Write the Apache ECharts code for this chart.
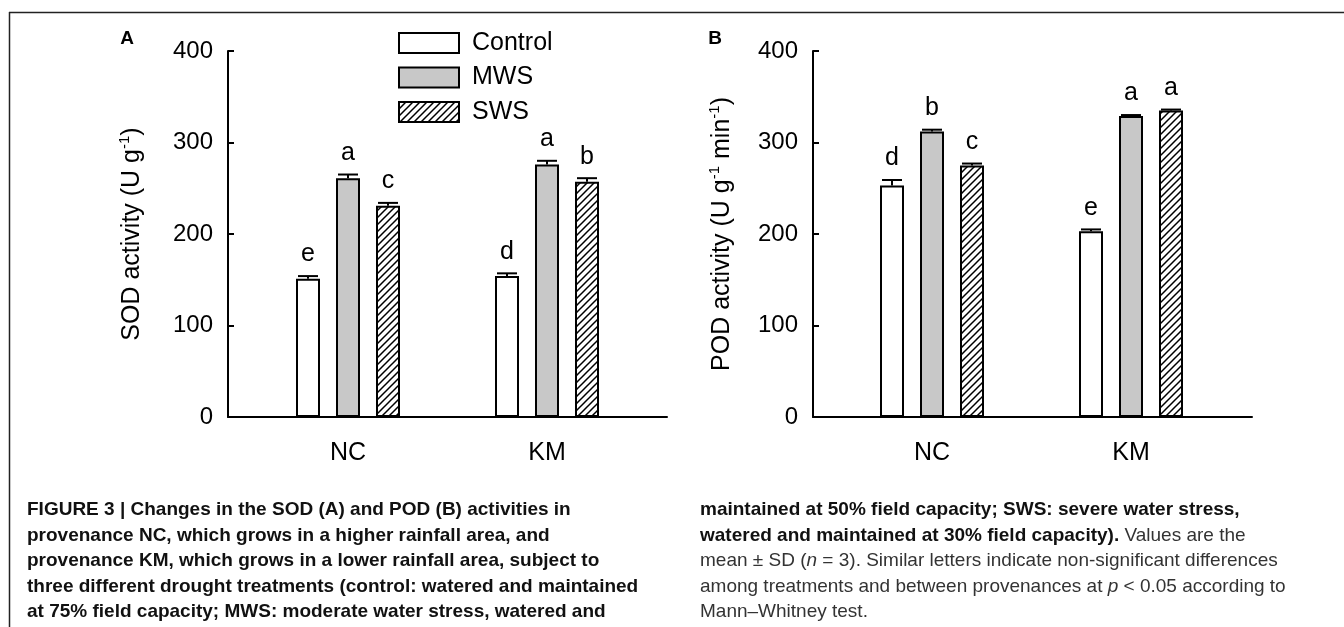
<!DOCTYPE html>
<html>
<head>
<meta charset="utf-8">
<script src="https://cdn.jsdelivr.net/npm/echarts@6/dist/echarts.min.js"></script>
<style>
html, body { margin: 0; padding: 0; background: #fff; }
#container { width: 1344px; height: 627px; }
</style>
</head>
<body>
<div id="container"></div>
<script>
var groups = ['NC', 'KM'];
var treatments = ['Control', 'MWS', 'SWS'];
var yTicks = [0, 100, 200, 300, 400];

// SOD activity, panel A
var sodControl = [151, 154];
var sodMws = [261, 276];
var sodSws = [231, 257];
var sodControlSd = [3, 3];
var sodMwsSd = [4, 4];
var sodSwsSd = [3, 4];
var sodControlLetters = ['e', 'd'];
var sodMwsLetters = ['a', 'a'];
var sodSwsLetters = ['c', 'b'];

// POD activity, panel B
var podControl = [253, 203];
var podMws = [312, 329];
var podSws = [275, 335];
var podControlSd = [6, 2];
var podMwsSd = [2, 1];
var podSwsSd = [2, 1];
var podControlLetters = ['d', 'e'];
var podMwsLetters = ['b', 'a'];
var podSwsLetters = ['c', 'a'];

var captionLeft = [
  'FIGURE 3 | Changes in the SOD (A) and POD (B) activities in',
  'provenance NC, which grows in a higher rainfall area, and',
  'provenance KM, which grows in a lower rainfall area, subject to',
  'three different drought treatments (control: watered and maintained',
  'at 75% field capacity; MWS: moderate water stress, watered and'
];
var captionRight = [
  '{b|maintained at 50% field capacity; SWS: severe water stress,}',
  '{b|watered and maintained at 30% field capacity).}{r| Values are the}',
  '{r|mean \u00b1 SD (}{i|n}{r| = 3). Similar letters indicate non-significant differences}',
  '{r|among treatments and between provenances at }{i|p}{r| < 0.05 according to}',
  '{r|Mann\u2013Whitney test.}'
];

var FONT = '"Liberation Sans", Arial, Helvetica, sans-serif';
var BAR_W = 24, BAR_GAP = 16;
var TOP = 51, BOTTOM = 210;

// diagonal hatch for SWS bars
function hatch() {
  var s = 7;
  var c = document.createElement('canvas');
  c.width = s; c.height = s;
  var g = c.getContext('2d');
  g.fillStyle = '#fff';
  g.fillRect(0, 0, s, s);
  g.strokeStyle = '#000';
  g.lineWidth = 1.5;
  g.beginPath();
  g.moveTo(0, s); g.lineTo(s, 0);
  g.moveTo(-1, 1); g.lineTo(1, -1);
  g.moveTo(s - 1, s + 1); g.lineTo(s + 1, s - 1);
  g.stroke();
  return c;
}
var fills = ['#ffffff', '#c8c8c8', { image: hatch(), repeat: 'repeat' }];

function frameX(gi) {
  return {
    gridIndex: gi, type: 'value', min: 0, max: 1,
    axisLine: { show: true, onZero: false, lineStyle: { color: '#000', width: 2 } },
    axisTick: { show: false }, axisLabel: { show: false }, splitLine: { show: false }
  };
}
function barsX(gi) {
  return {
    gridIndex: gi, type: 'category', data: groups,
    axisLine: { show: false }, axisTick: { show: false },
    axisLabel: { color: '#000', fontSize: 25, fontFamily: FONT, margin: 24 }
  };
}
function frameY(gi, name, gap) {
  return {
    gridIndex: gi, type: 'value', min: yTicks[0], max: yTicks[yTicks.length - 1], interval: 100,
    axisLine: { show: true, lineStyle: { color: '#000', width: 2 } },
    axisTick: { show: true, inside: true, length: 6, lineStyle: { color: '#000', width: 2 } },
    axisLabel: { color: '#000', fontSize: 24, fontFamily: FONT, margin: 15 },
    splitLine: { show: false },
    name: name, nameLocation: 'middle', nameGap: gap,
    nameTextStyle: {
      rich: {
        n: { fontSize: 25, fontFamily: FONT, color: '#000', lineHeight: 30 },
        s: { fontSize: 15, fontFamily: FONT, color: '#000', lineHeight: 15, verticalAlign: 'top' }
      }
    }
  };
}
function barsY(gi) {
  return { gridIndex: gi, type: 'value', min: yTicks[0], max: yTicks[yTicks.length - 1], show: false };
}

function barSeries(k, data, ai) {
  return {
    name: treatments[k], type: 'bar', xAxisIndex: ai, yAxisIndex: ai,
    data: data, barWidth: BAR_W, barGap: (BAR_GAP / BAR_W * 100) + '%',
    itemStyle: { color: fills[k], borderColor: '#000', borderWidth: 2 },
    silent: true
  };
}

// error bar (upper half) plus letter above it
function errSeries(k, means, sds, letters, ai) {
  var offset = (k - 1) * (BAR_W + BAR_GAP);
  return {
    type: 'custom', xAxisIndex: ai, yAxisIndex: ai, z: 5, silent: true,
    data: means.map(function (m, i) { return [i, m, sds[i]]; }),
    renderItem: function (params, api) {
      var i = api.value(0), m = api.value(1), sd = api.value(2);
      var base = api.coord([i, m]);
      var tip = api.coord([i, m + sd]);
      var x = base[0] + offset;
      return {
        type: 'group',
        children: [
          { type: 'line', shape: { x1: x, y1: base[1], x2: x, y2: tip[1] }, style: { stroke: '#000', lineWidth: 2 } },
          { type: 'line', shape: { x1: x - 10, y1: tip[1], x2: x + 10, y2: tip[1] }, style: { stroke: '#000', lineWidth: 2 } },
          { type: 'text', style: { text: letters[params.dataIndex], x: x, y: tip[1] - 9, fill: '#000',
              font: '25px ' + FONT, align: 'center', verticalAlign: 'bottom' } }
        ]
      };
    }
  };
}

var graphics = [
  { type: 'line', shape: { x1: 9, y1: 12.5, x2: 1344, y2: 12.5 }, style: { stroke: '#222', lineWidth: 1.5 } },
  { type: 'line', shape: { x1: 9.5, y1: 12, x2: 9.5, y2: 627 }, style: { stroke: '#222', lineWidth: 1.5 } },
  { type: 'text', style: { text: 'A', x: 127, y: 39, font: 'bold 19px ' + FONT, fill: '#000', align: 'center', verticalAlign: 'middle' } },
  { type: 'text', style: { text: 'B', x: 715, y: 39, font: 'bold 19px ' + FONT, fill: '#000', align: 'center', verticalAlign: 'middle' } }
];
captionLeft.forEach(function (t, i) {
  graphics.push({ type: 'text', style: { text: t, x: 27, y: 510 + i * 25.5, font: 'bold 19px ' + FONT, fill: '#111', verticalAlign: 'middle' } });
});
captionRight.forEach(function (t, i) {
  graphics.push({ type: 'text', style: { text: t, x: 700, y: 510 + i * 25.5, verticalAlign: 'middle',
    rich: {
      b: { font: 'bold 19px ' + FONT, fill: '#111' },
      r: { font: '19px ' + FONT, fill: '#333' },
      i: { font: 'italic 19px ' + FONT, fill: '#333' }
    } } });
});

var myChart = echarts.init(document.getElementById('container'));
var option = {
  animation: false,
  textStyle: { fontFamily: FONT },
  legend: {
    data: treatments, orient: 'vertical', left: 393, top: 25.5,
    itemWidth: 60, itemHeight: 20, itemGap: 9.5, icon: 'rect', selectedMode: false,
    textStyle: { fontSize: 25, color: '#000', fontFamily: FONT, padding: [0, 0, 0, 8] }
  },
  grid: [
    { left: 228, width: 439, top: TOP, bottom: BOTTOM },
    { left: 248.5, width: 398, top: TOP, bottom: BOTTOM },
    { left: 813, width: 439, top: TOP, bottom: BOTTOM },
    { left: 832.5, width: 398, top: TOP, bottom: BOTTOM }
  ],
  xAxis: [frameX(0), barsX(1), frameX(2), barsX(3)],
  yAxis: [
    frameY(0, '{n|SOD activity (U g}{s|-1}{n|)}', 81),
    barsY(1),
    frameY(2, '{n|POD activity (U g}{s|-1}{n| min}{s|-1}{n|)}', 76),
    barsY(3)
  ],
  series: [
    barSeries(0, sodControl, 1), barSeries(1, sodMws, 1), barSeries(2, sodSws, 1),
    errSeries(0, sodControl, sodControlSd, sodControlLetters, 1),
    errSeries(1, sodMws, sodMwsSd, sodMwsLetters, 1),
    errSeries(2, sodSws, sodSwsSd, sodSwsLetters, 1),
    barSeries(0, podControl, 3), barSeries(1, podMws, 3), barSeries(2, podSws, 3),
    errSeries(0, podControl, podControlSd, podControlLetters, 3),
    errSeries(1, podMws, podMwsSd, podMwsLetters, 3),
    errSeries(2, podSws, podSwsSd, podSwsLetters, 3)
  ],
  graphic: graphics
};
myChart.setOption(option);
window.onresize = myChart.resize;
</script>
</body>
</html>
